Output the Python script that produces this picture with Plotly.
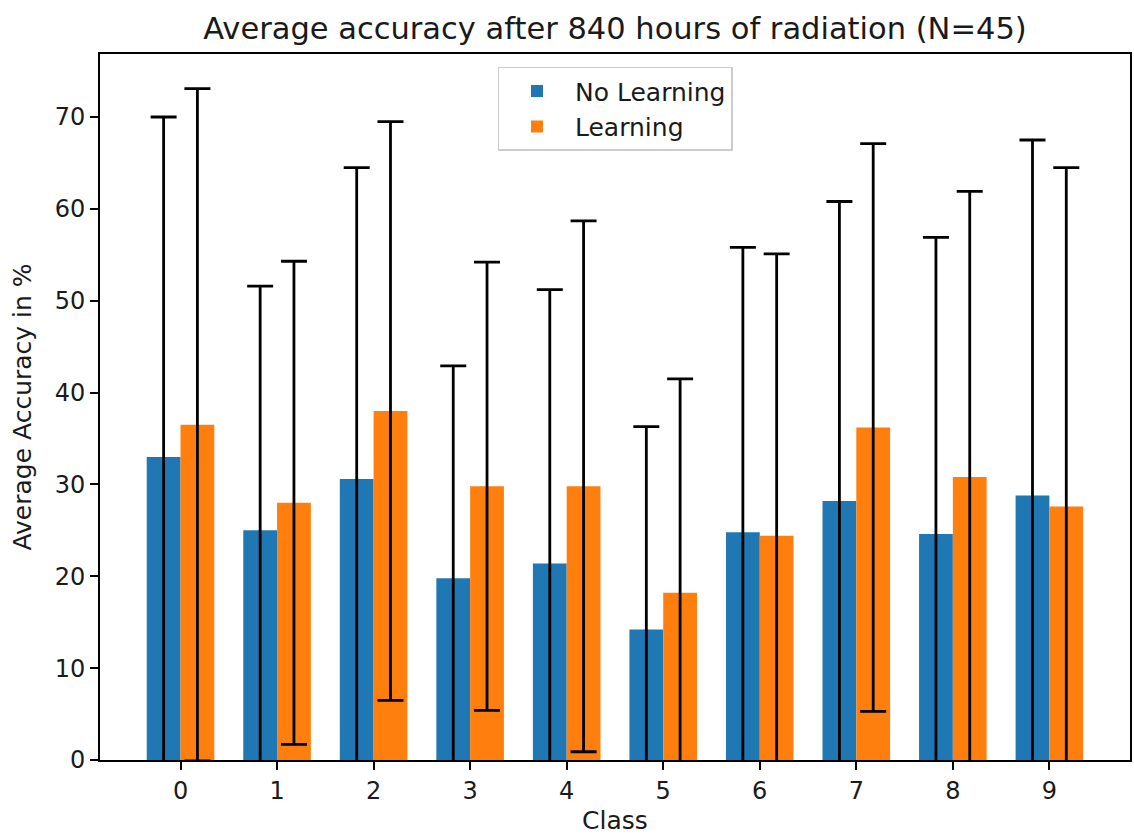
import plotly.graph_objects as go

classes = [0, 1, 2, 3, 4, 5, 6, 7, 8, 9]
no_learning = [33.0, 25.0, 30.6, 19.8, 21.4, 14.2, 24.8, 28.2, 24.6, 28.8]
no_learning_std = [37.0, 26.6, 33.9, 23.1, 29.8, 22.1, 31.0, 32.6, 32.3, 38.7]
learning = [36.5, 28.0, 38.0, 29.8, 29.8, 18.2, 24.4, 36.2, 30.8, 27.6]
learning_std = [36.6, 26.3, 31.5, 24.4, 28.9, 23.3, 30.7, 30.9, 31.1, 36.9]

FONT = "DejaVu Sans"
TXT = "#1a1a1a"

fig = go.Figure()
fig.add_trace(go.Bar(
    x=classes, y=no_learning, name="No Learning",
    marker=dict(color="#1f77b4", line=dict(width=0)),
    error_y=dict(type="data", array=no_learning_std, visible=True,
                 color="black", thickness=2.8, width=13),
))
fig.add_trace(go.Bar(
    x=classes, y=learning, name="Learning",
    marker=dict(color="#ff7f0e", line=dict(width=0)),
    error_y=dict(type="data", array=learning_std, visible=True,
                 color="black", thickness=2.8, width=13),
))

fig.update_layout(
    width=1134, height=838,
    margin=dict(l=100, r=2, t=54, b=78),
    paper_bgcolor="white", plot_bgcolor="white",
    barmode="group", bargap=0.3, bargroupgap=0,
    font=dict(family=FONT, size=24, color=TXT),
    title=dict(text="Average accuracy after 840 hours of radiation (N=45)",
               x=0.5, xanchor="center", y=0.966, yanchor="middle",
               xref="paper", yref="container",
               font=dict(family=FONT, size=30.5, color=TXT)),
    legend=dict(x=0.5, xanchor="center", y=0.982, yanchor="top",
                bgcolor="rgba(255,255,255,0.8)", bordercolor="#cccccc",
                borderwidth=1.5, font=dict(family=FONT, size=25, color=TXT),
                itemwidth=66, tracegroupgap=6),
    showlegend=True,
)
fig.update_xaxes(
    range=[-0.834, 9.835], tickmode="array", tickvals=classes,
    ticktext=[str(c) for c in classes],
    showline=True, linecolor="black", linewidth=1.8, mirror=True,
    ticks="outside", ticklen=8, tickwidth=1.8, tickcolor="black",
    showgrid=False, zeroline=False, tickfont=dict(size=24),
    title=dict(text="Class", standoff=8, font=dict(family=FONT, size=25, color=TXT)),
)
fig.update_yaxes(
    range=[0, 76.86], tickmode="array", tickvals=[0, 10, 20, 30, 40, 50, 60, 70],
    showline=True, linecolor="black", linewidth=1.8, mirror=True,
    ticks="outside", ticklen=8, tickwidth=1.8, tickcolor="black",
    showgrid=False, zeroline=False, tickfont=dict(size=24),
    title=dict(text="Average Accuracy in %", standoff=16,
               font=dict(family=FONT, size=25, color=TXT)),
)

fig.write_html("out.html")
